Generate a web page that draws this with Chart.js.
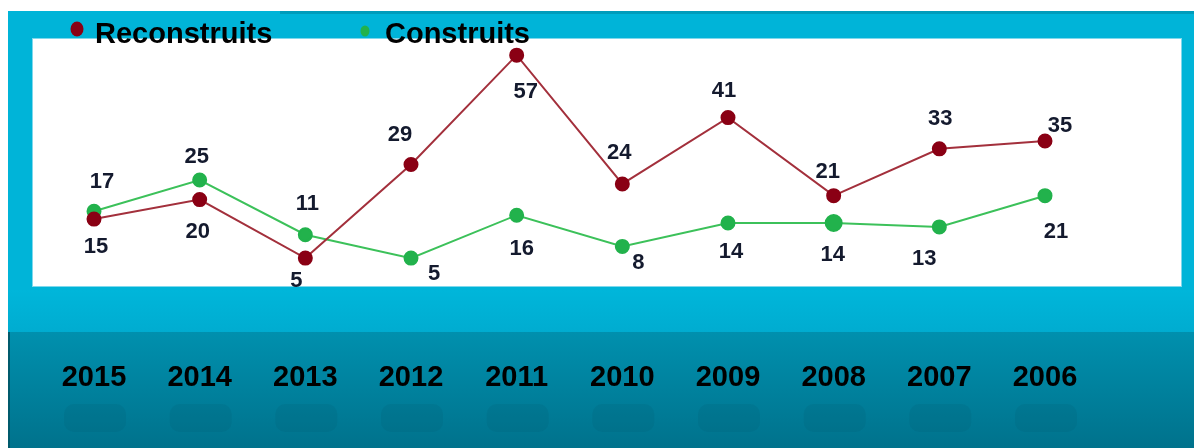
<!DOCTYPE html>
<html>
<head>
<meta charset="utf-8">
<script src="https://cdn.jsdelivr.net/npm/chart.js@4.4.1/dist/chart.umd.min.js"></script>
<style>
  html, body { margin: 0; padding: 0; background: #fff; }
  #chart { display: block; }
</style>
</head>
<body>
<canvas id="chart" width="1194" height="448"></canvas>
<script>
// data
const years = ['2015', '2014', '2013', '2012', '2011', '2010', '2009', '2008', '2007', '2006'];
const reconstruits = [15, 20, 5, 29, 57, 24, 41, 21, 33, 35];
const construits = [17, 25, 11, 5, 16, 8, 14, 14, 13, 21];

// where each value label sits relative to its point (px)
const redLabelOffsets = [[2, 28], [-2, 32], [-9, 23], [-11, -30], [9, 37], [-3, -31], [-4, -27], [-6, -24], [1, -30], [15, -15]];
const greenLabelOffsets = [[8, -29], [-3, -23], [2, -31], [23, 16], [5, 34], [16, 17], [3, 29], [-1, 32], [-15, 32], [11, 36]];

const RED = '#8a0014';
const GREEN = '#22b24c';

const backgroundPlugin = {
    id: 'background',
    beforeDraw(chart) {
        const ctx = chart.ctx;
        const area = chart.chartArea;
        ctx.save();
        ctx.fillStyle = '#ffffff';
        ctx.fillRect(0, 0, chart.width, chart.height);
        // cyan panel
        ctx.fillStyle = '#00b4d8';
        ctx.fillRect(8, 11, chart.width - 8, chart.height - 11);
        ctx.fillStyle = '#009cbb';
        ctx.fillRect(280, 11, chart.width - 280, 3);
        // lighter band under the white box
        let g = ctx.createLinearGradient(0, 290, 0, 332);
        g.addColorStop(0, '#00b6da');
        g.addColorStop(1, '#00acd0');
        ctx.fillStyle = g;
        ctx.fillRect(8, 290, chart.width - 8, 42);
        // darker teal bottom band
        g = ctx.createLinearGradient(0, 332, 0, chart.height);
        g.addColorStop(0, '#0090ae');
        g.addColorStop(1, '#00728c');
        ctx.fillStyle = g;
        ctx.fillRect(8, 332, chart.width - 8, chart.height - 332);
        ctx.fillStyle = '#005a6c';
        ctx.fillRect(8, 332, 2, chart.height - 332);
        // faint reflections below the year labels
        ctx.fillStyle = 'rgba(0, 90, 110, 0.15)';
        chart.scales.x.ticks.forEach((t, i) => {
            const x = chart.scales.x.getPixelForTick(i);
            ctx.beginPath();
            ctx.roundRect(x - 30, 404, 62, 28, 10);
            ctx.fill();
        });
        // white plot box
        ctx.fillStyle = '#ffffff';
        ctx.fillRect(32, area.top, 1150, area.bottom - area.top);
        ctx.strokeStyle = '#7fd8ec';
        ctx.lineWidth = 1;
        ctx.strokeRect(32.5, area.top + 0.5, 1149, area.bottom - area.top - 1);
        ctx.restore();
    }
};

const valueLabelPlugin = {
    id: 'valueLabels',
    afterDatasetsDraw(chart) {
        const ctx = chart.ctx;
        const offsets = [redLabelOffsets, greenLabelOffsets];
        ctx.save();
        ctx.font = 'bold 22px Arial, "Liberation Sans", sans-serif';
        ctx.fillStyle = '#141a2e';
        ctx.textAlign = 'center';
        ctx.textBaseline = 'middle';
        chart.data.datasets.forEach((ds, di) => {
            chart.getDatasetMeta(di).data.forEach((pt, i) => {
                const off = offsets[di][i];
                ctx.fillText(String(ds.data[i]), pt.x + off[0], pt.y + off[1]);
            });
        });
        ctx.restore();
    }
};

const legendPlugin = {
    id: 'customLegend',
    afterDraw(chart) {
        const ctx = chart.ctx;
        const items = [
            { x: 77, y: 29, r: 7.5, textX: 95 },
            { x: 365, y: 31, r: 5.5, textX: 385 }
        ];
        ctx.save();
        ctx.font = 'bold 29px Arial, "Liberation Sans", sans-serif';
        ctx.textBaseline = 'alphabetic';
        ctx.textAlign = 'left';
        chart.data.datasets.forEach((ds, i) => {
            const it = items[i];
            ctx.fillStyle = ds.pointBackgroundColor;
            ctx.beginPath();
            ctx.ellipse(it.x, it.y, it.r - 1, it.r, 0, 0, Math.PI * 2);
            ctx.fill();
            ctx.fillStyle = '#000';
            ctx.fillText(ds.label, it.textX, 43);
        });
        ctx.restore();
    }
};

const ctx = document.getElementById('chart').getContext('2d');
new Chart(ctx, {
    type: 'line',
    data: {
        labels: years,
        datasets: [
            {
                label: 'Reconstruits',
                data: reconstruits,
                borderColor: '#a3303c',
                borderWidth: 2,
                pointBackgroundColor: RED,
                pointBorderColor: RED,
                pointRadius: 6.5,
                tension: 0
            },
            {
                label: 'Construits',
                data: construits,
                borderColor: '#3cc15a',
                borderWidth: 2,
                pointBackgroundColor: GREEN,
                pointBorderColor: GREEN,
                pointRadius: [6.5, 6.5, 6.5, 6.5, 6.5, 6.5, 6.5, 8, 6.5, 6.5],
                tension: 0
            }
        ]
    },
    options: {
        responsive: false,
        animation: false,
        layout: {
            padding: { left: 94, right: 149, top: 38, bottom: 53 }
        },
        plugins: {
            legend: { display: false },
            tooltip: { enabled: false }
        },
        scales: {
            x: {
                offset: false,
                grid: { display: false, drawTicks: false },
                border: { display: false },
                afterFit: (scale) => {
                    scale.height = 108;
                    scale.paddingLeft = 0;
                    scale.paddingRight = 0;
                },
                ticks: {
                    padding: 74,
                    color: '#000',
                    maxRotation: 0,
                    font: { family: 'Arial, "Liberation Sans", sans-serif', size: 29, weight: 'bold' }
                }
            },
            y: {
                display: false,
                min: -2.4,
                max: 61.4
            }
        }
    },
    plugins: [backgroundPlugin, valueLabelPlugin, legendPlugin]
});
</script>
</body>
</html>
